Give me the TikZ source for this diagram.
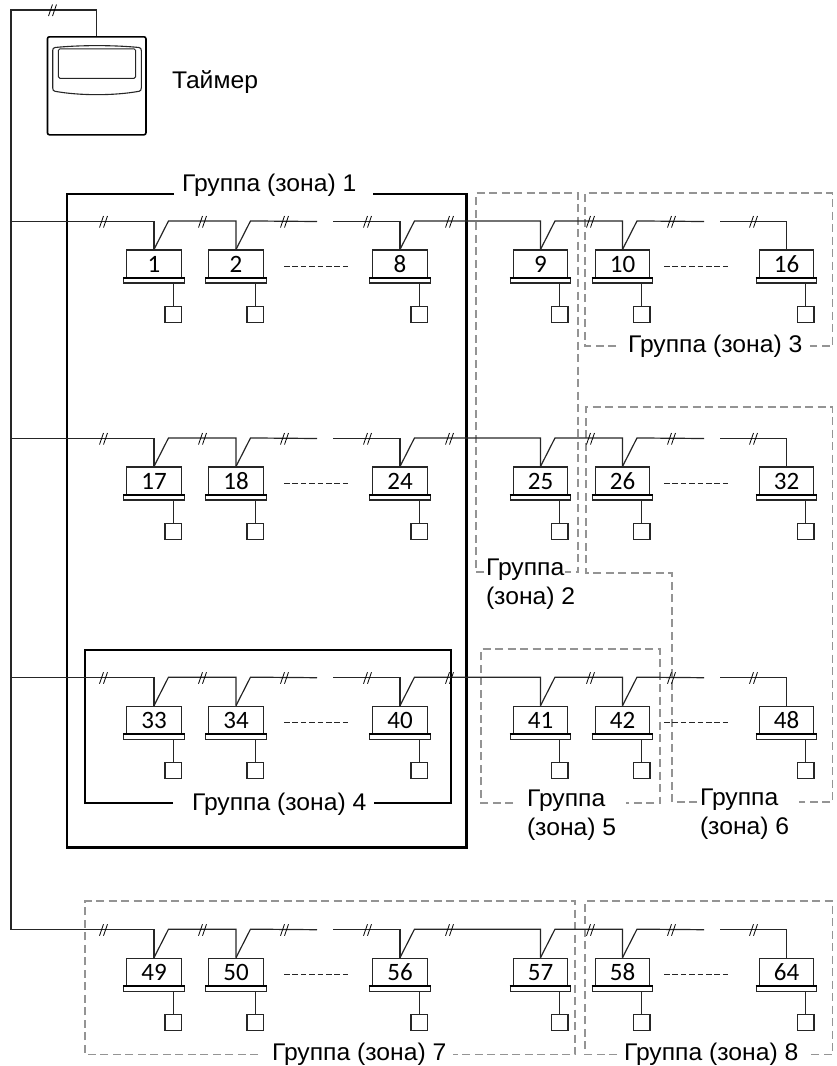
\documentclass[tikz,border=0pt]{standalone}
\usepackage{fontspec}
\setmainfont[FakeStretch=1.025]{Liberation Sans}
\newfontfamily\numfont{Carlito}
\tikzset{
  x=1pt,y=-1pt,
  wire/.style={line width=1.2pt,draw=black!85},
  cut/.style={line width=0.8pt,draw=black},
  unitbox/.style={draw=black!85,line width=1.1pt,fill=white,minimum width=54.5pt,minimum height=28.5pt,inner sep=0pt,font=\numfont\fontsize{25}{26}\selectfont},
  plate/.style={draw=black!85,line width=1.1pt,fill=white,minimum width=60.7pt,minimum height=4.6pt,inner sep=0pt},
  sensor/.style={draw=black!85,line width=1.1pt,fill=white,minimum width=16.5pt,minimum height=16.3pt,inner sep=0pt},
  zonesolid/.style={line width=2.4pt,draw=black,line join=miter},
  zonegray/.style={line width=1.5pt,draw=black!42,dash pattern=on 8pt off 4.5pt},
  dots/.style={line width=1pt,draw=black!85,dash pattern=on 5.5pt off 2.9pt},
  lab/.style={inner sep=0pt,outer sep=0pt,anchor=base west,align=left,font=\fontsize{24.1}{29}\selectfont},
}
% #1 label, #2 x, #3 wire y
\newcommand\unitat[3]{%
  \node[unitbox] (u#1) at (#2,#3+42.75) {#1};
  \node[plate] (p#1) at (#2,#3+59.2) {};
  \draw[line width=1.8pt,draw=black] (p#1.north west) -- (p#1.north east);
  \node[sensor] (s#1) at (#2+19.2,#3+92.7) {};
  \draw[wire] (s#1.north) -- (s#1.north |- p#1.south);
}
\newcommand\wirecut[2]{%
  \draw[cut] (#1-3.5,#2+6) -- (#1+0.5,#2-5.5);
  \draw[cut] (#1+0.5,#2+6) -- (#1+4.5,#2-5.5);
}
% #1 wire y, #2 name of row start, #3..#8 unit labels
\newcommand\unitrow[8]{%
  \unitat{#3}{154}{#1}\unitat{#4}{236}{#1}\unitat{#5}{400}{#1}%
  \unitat{#6}{540.5}{#1}\unitat{#7}{622.5}{#1}\unitat{#8}{786.5}{#1}%
  \coordinate (g#2a) at (317,#1);\coordinate (g#2b) at (333,#1);
  \coordinate (g#2c) at (704,#1);\coordinate (g#2d) at (720,#1);
  \draw[wire] (#2) -| (u#3.north);
  \draw[wire] (u#3.north) -- ++(14.5,-28.5) -| (u#4.north);
  \draw[wire] (u#4.north) -- ++(14.5,-28.5) -- (g#2a);
  \draw[wire] (g#2b) -| (u#5.north);
  \draw[wire] (u#5.north) -- ++(14.5,-28.5) -| (u#6.north);
  \draw[wire] (u#6.north) -- ++(14.5,-28.5) -| (u#7.north);
  \draw[wire] (u#7.north) -- ++(14.5,-28.5) -- (g#2c);
  \draw[wire] (g#2d) -| (u#8.north);
  \foreach \sx in {103,202,284,367,449,590,671,753}{\wirecut{\sx}{#1}}
  \coordinate (d#2a) at (284,#1+45);\coordinate (d#2b) at (348,#1+45);
  \coordinate (d#2c) at (664,#1+45);\coordinate (d#2d) at (728,#1+45);
  \draw[dots] (d#2a) -- (d#2b);
  \draw[dots] (d#2c) -- (d#2d);
}
\begin{document}
\begin{tikzpicture}
\useasboundingbox (0,0) rectangle (837,1066);
% gray zones
\draw[zonegray] (484,572) -- (476,572) -- (476,193) -- (578,193) -- (578,572) -- (565,572);
\draw[zonegray] (616,346) -- (585,346) -- (585,193) -- (832.5,193) -- (832.5,346) -- (810,346);
\draw[zonegray] (697,802) -- (672,802) -- (672,573) -- (586,573) -- (586,407) -- (832.5,407) -- (832.5,802) -- (799,802);
\draw[zonegray] (513,803) -- (481,803) -- (481,649) -- (660,649) -- (660,803) -- (626,803);
\draw[zonegray] (258,1054.5) -- (85,1054.5) -- (85,901) -- (575,901) -- (575,1054.5) -- (453,1054.5);
\draw[zonegray] (617,1054.5) -- (585,1054.5) -- (585,901) -- (832.5,901) -- (832.5,1054.5) -- (809,1054.5);
% solid zones
\draw[zonesolid] (174,194) -- (67,194) -- (67,847.5) -- (466.5,847.5) -- (466.5,194) -- (373,194);
\draw[zonesolid] (173,803) -- (85,803) -- (85,650) -- (451,650) -- (451,803) -- (374,803);
% timer
\node[draw=black,line width=1.6pt,rounded corners=2pt,minimum width=98.5pt,minimum height=98pt,inner sep=0pt] (timer) at (96.7,85.8) {};
\draw[line width=1.1pt,draw=black!85] (55,47.5) .. controls (80,45) and (114,45) .. (139,47.5)
  .. controls (140.7,47.7) and (141.3,49) .. (141.3,50.5) -- (141.3,88)
  .. controls (141.3,90) and (140.5,91) .. (139,91.3)
  .. controls (114,95.8) and (80,95.8) .. (55,91.3)
  .. controls (53.5,91) and (52.7,90) .. (52.7,88) -- (52.7,50.5)
  .. controls (52.7,49) and (53.3,47.7) .. (55,47.5) -- cycle;
\node[draw=black!85,line width=1pt,rounded corners=1.5pt,minimum width=77.4pt,minimum height=29.3pt,inner sep=0pt] (screen) at (97,63.6) {};
\node[lab] (ltimer) at (172,88) {Таймер};
% trunk
\coordinate (ttop) at (11,10);
\coordinate (r1) at (11,221.5);
\coordinate (r2) at (11,438.5);
\coordinate (r3) at (11,677.7);
\coordinate (r4) at (11,929.7);
\draw[wire] (timer.north) |- (ttop) -- (r4);
\wirecut{52}{10}
% rows
\unitrow{221.5}{r1}{1}{2}{8}{9}{10}{16}
\unitrow{438.5}{r2}{17}{18}{24}{25}{26}{32}
\unitrow{677.7}{r3}{33}{34}{40}{41}{42}{48}
\unitrow{929.7}{r4}{49}{50}{56}{57}{58}{64}
% labels
\node[lab] (z1) at (182,191) {Группа (зона) 1};
\node[lab] (z2) at (486,604) {Группа\\(зона) 2};
\node[lab] (z3) at (628,352.7) {Группа (зона) 3};
\node[lab] (z4) at (192,810) {Группа (зона) 4};
\node[lab] (z5) at (527,835) {Группа\\(зона) 5};
\node[lab] (z6) at (700,834) {Группа\\(зона) 6};
\node[lab] (z7) at (272,1060) {Группа (зона) 7};
\node[lab] (z8) at (624,1060) {Группа (зона) 8};
\end{tikzpicture}
\end{document}
